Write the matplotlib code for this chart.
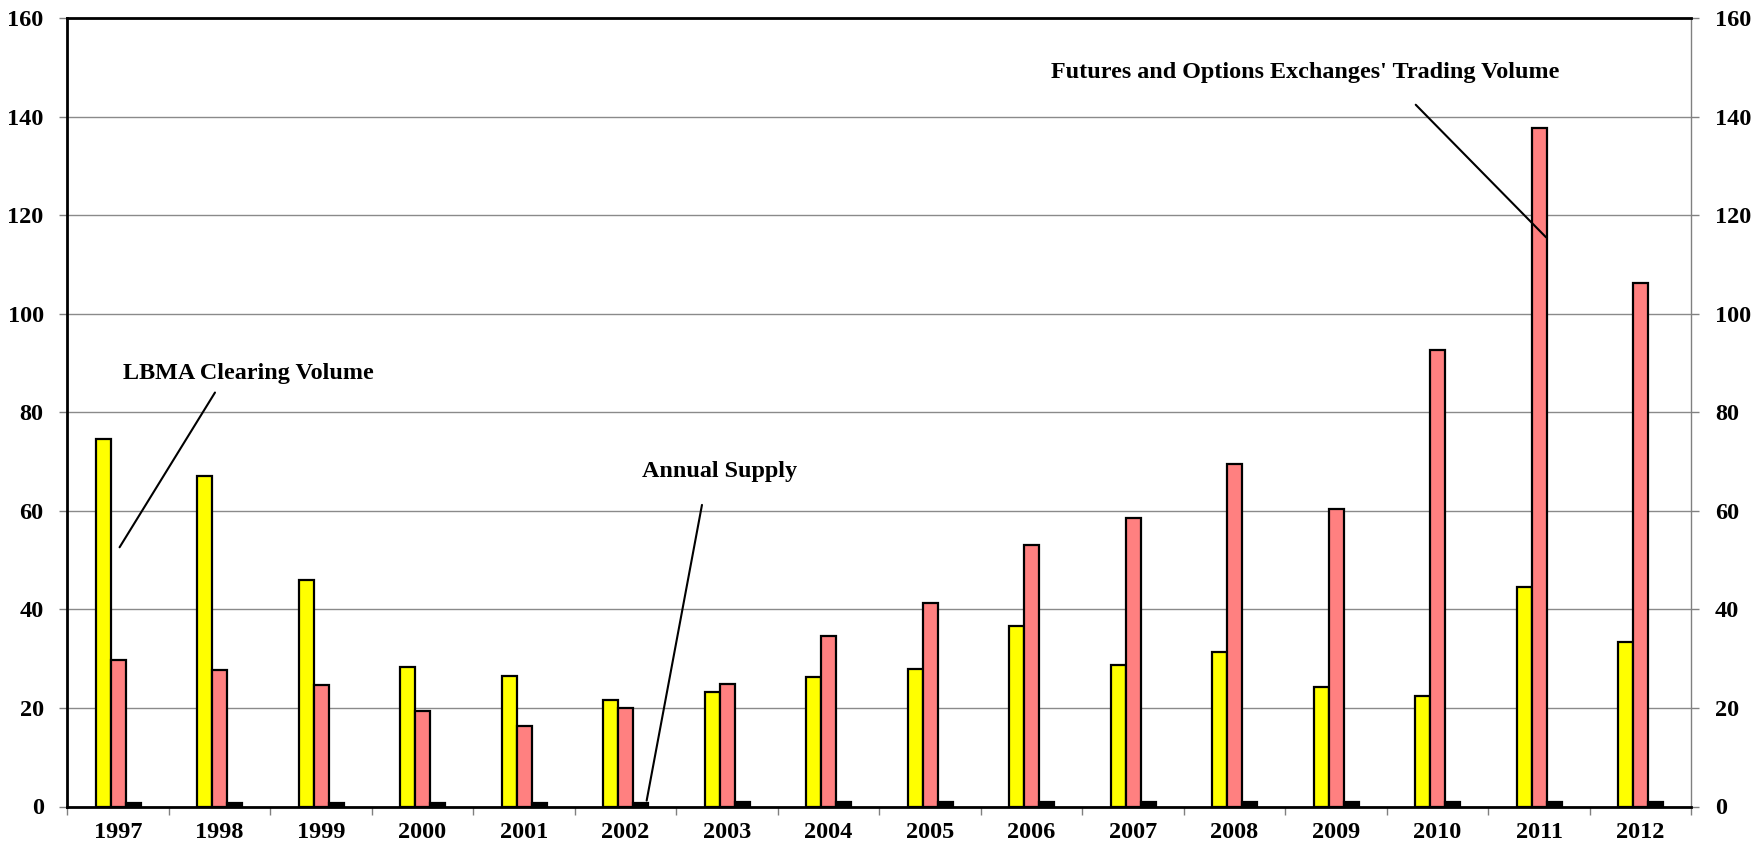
import numpy as np
import matplotlib
matplotlib.use("Agg")
import matplotlib.pyplot as plt

years = ["1997", "1998", "1999", "2000", "2001", "2002", "2003", "2004",
         "2005", "2006", "2007", "2008", "2009", "2010", "2011", "2012"]
lbma_clearing = [74.6, 67.0, 46.0, 28.4, 26.4, 21.7, 23.3, 26.3,
                 27.8, 36.6, 28.8, 31.4, 24.3, 22.4, 44.6, 33.3]
futures_options = [29.8, 27.7, 24.7, 19.4, 16.3, 19.9, 24.9, 34.5,
                   41.2, 53.1, 58.6, 69.6, 60.3, 92.7, 137.7, 106.2]
annual_supply = [0.75, 0.75, 0.78, 0.80, 0.80, 0.80, 0.82, 0.82,
                 0.85, 0.86, 0.86, 0.88, 0.92, 0.96, 0.98, 1.0]
y_ticks = [0, 20, 40, 60, 80, 100, 120, 140, 160]

plt.rcParams["font.family"] = ["Liberation Serif", "DejaVu Serif"]
plt.rcParams["font.weight"] = "bold"

fig = plt.figure(figsize=(17.65, 8.5), dpi=100)
ax = fig.add_axes([67.3 / 1765, 43.5 / 850, 1624 / 1765, 788.5 / 850])

x = np.arange(len(years))
w = 0.148
edge = dict(edgecolor="black", linewidth=1.6, zorder=3)
ax.bar(x - w, lbma_clearing, w, color="#FFFF00", **edge)
ax.bar(x, futures_options, w, color="#FF8080", **edge)
ax.bar(x + w, annual_supply, w, color="black", **edge)

ax.set_xlim(-0.5, len(years) - 0.5)
ax.set_ylim(0, 160)
ax.set_yticks(y_ticks)
ax.yaxis.grid(True, color="#8a8a8a", linewidth=1.0, zorder=0)
ax.set_axisbelow(True)

ax.set_xticks(x)
ax.set_xticklabels(years)
ax.set_xticks(np.arange(len(years) + 1) - 0.5, minor=True)
ax.tick_params(axis="x", which="major", length=0, pad=11, labelsize=17.5)
ax.tick_params(axis="x", which="minor", length=6, width=1, color="#808080")
ax.tick_params(axis="y", which="major", length=6, width=1, color="#808080",
               pad=11, labelsize=17.5, left=True, right=True,
               labelleft=True, labelright=True)
for lab in ax.get_xticklabels() + ax.get_yticklabels():
    lab.set_fontweight("bold")

for side in ("left", "top", "bottom"):
    ax.spines[side].set_color("black")
    ax.spines[side].set_linewidth(2.0)
ax.spines["right"].set_color("#808080")
ax.spines["right"].set_linewidth(1.0)

txt = dict(fontsize=17.4, fontweight="bold", ha="left", va="center", zorder=5)
line = dict(arrowstyle="-", color="black", lw=1.5, shrinkA=0, shrinkB=0)

ax.text(0.049, 87.8, "LBMA Clearing Volume", **txt)
ax.annotate("", xy=(0.015, 52.6), xytext=(0.955, 84.0), arrowprops=line, zorder=5)

ax.text(5.159, 67.9, "Annual Supply", **txt)
ax.annotate("", xy=(5.208, 1.2), xytext=(5.753, 61.2), arrowprops=line, zorder=5)

ax.text(9.189, 149.0, "Futures and Options Exchanges' Trading Volume", **txt)
ax.annotate("", xy=(14.069, 115.5), xytext=(12.785, 142.4), arrowprops=line, zorder=5)

fig.savefig("out.png", dpi=100)
